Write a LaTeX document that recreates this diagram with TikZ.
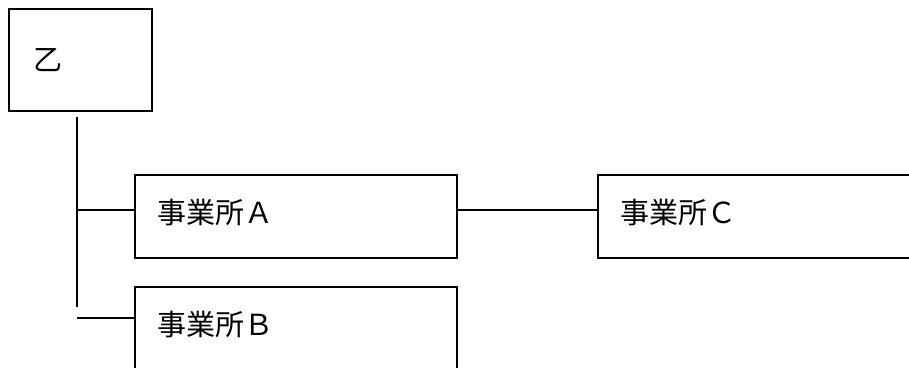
\documentclass[tikz,border=0pt]{standalone}
\usepackage{fontspec}
\newfontfamily\jp{Noto Sans CJK JP}
\begin{document}
\begin{tikzpicture}[x=1pt,y=1pt,line width=1.8pt,
  office/.style={draw,rectangle,minimum width=322pt,minimum height=83pt,
    inner xsep=22pt,text width=278pt,align=left,
    text height=25pt,text depth=11pt,
    font=\jp\fontsize{29}{33}\selectfont}]
\useasboundingbox (0,0) rectangle (909,-367);
\clip (0,0) rectangle (909,-367);

\node[draw,rectangle,minimum width=143pt,minimum height=102pt,
  inner xsep=24pt,text width=95pt,align=left,
  font=\jp\fontsize{29}{33}\selectfont] (otsu) at (80.5,-60) {乙};

\node[office] (offA) at (296,-216.5) {事業所Ａ};
\node[office] (offB) at (296,-328.5) {事業所Ｂ};
\node[office] (offC) at (759,-216.5) {事業所Ｃ};

\coordinate (T0) at (77,-117);
\coordinate (T1) at (77,-307);
\coordinate (TA) at (77,-210);
\coordinate (TB) at (77,-318);

\draw (T0) -- (T1);
\draw (TA) -- ([yshift=6.5pt]offA.west);
\draw (TB) -- ([yshift=10.5pt]offB.west);
\draw ([yshift=6.5pt]offA.east) -- ([yshift=6.5pt]offC.west);

\end{tikzpicture}
\end{document}
